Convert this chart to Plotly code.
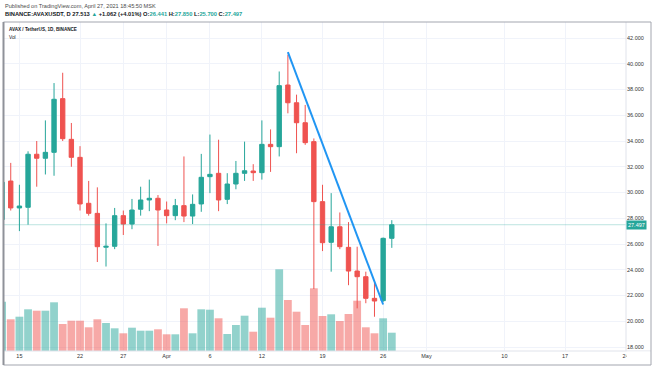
import plotly.graph_objects as go
import pandas as pd

# ---------------- data ----------------
dates = pd.date_range("2021-03-13", "2021-04-27", freq="D")

opens = [27.90, 30.89, 28.80, 28.85, 32.97, 32.66, 33.12, 37.29, 34.13, 32.73,
         29.16, 28.38, 25.75, 25.82, 28.20, 27.55, 28.70, 29.42, 29.55, 28.64,
         28.20, 28.98, 28.17, 29.11, 31.23, 31.49, 29.47, 30.66, 31.49, 31.67,
         31.54, 33.74, 33.56, 38.35, 36.97, 35.42, 33.95, 29.29, 26.13, 27.34,
         25.74, 23.90, 23.46, 21.78, 21.60, 26.441]
highs = [31.10, 32.30, 30.60, 33.20, 34.00, 35.60, 38.50, 39.30, 35.40, 33.60,
         30.90, 30.40, 27.60, 28.80, 28.60, 29.50, 30.45, 31.00, 29.80, 29.30,
         29.50, 32.80, 29.85, 33.00, 34.50, 34.10, 31.50, 32.45, 33.95, 32.20,
         35.60, 34.90, 39.40, 40.70, 37.60, 36.80, 34.20, 30.60, 29.95, 28.45,
         27.70, 25.79, 23.85, 23.20, 26.50, 27.850]
lows = [27.40, 28.60, 27.00, 27.50, 30.45, 31.40, 31.30, 34.00, 32.00, 28.60,
        28.20, 24.60, 24.25, 25.60, 26.70, 27.15, 28.20, 28.55, 25.85, 27.60,
        27.85, 27.70, 27.55, 28.50, 29.95, 28.55, 29.10, 30.25, 30.90, 30.90,
        31.00, 31.60, 32.80, 36.15, 33.05, 33.70, 22.50, 25.45, 23.85, 25.60,
        22.80, 21.00, 21.40, 20.35, 21.50, 25.700]
closes = [30.80, 28.80, 28.95, 32.97, 32.66, 33.12, 37.24, 34.18, 32.73, 29.11,
          28.38, 25.79, 25.82, 28.20, 27.55, 28.64, 29.42, 29.55, 28.64, 28.20,
          28.98, 28.17, 29.08, 31.18, 31.41, 29.42, 30.66, 31.49, 31.69, 31.54,
          33.74, 33.56, 38.30, 36.97, 35.42, 33.87, 29.29, 26.10, 27.34, 25.79,
          23.90, 23.46, 21.78, 21.57, 26.44, 27.497]
# volume, millions of AVAX (relative heights)
volumes = [4.93, 3.17, 3.43, 4.17, 4.03, 4.03, 4.87, 2.70, 3.03, 3.03,
           2.37, 3.17, 2.80, 2.27, 1.77, 2.33, 2.03, 2.03, 2.17, 1.67,
           1.67, 4.27, 1.77, 4.17, 4.13, 3.27, 1.70, 2.60, 3.53, 1.93,
           4.33, 3.33, 8.17, 5.10, 3.93, 2.60, 6.27, 3.50, 3.67, 3.00,
           3.70, 5.03, 2.37, 1.77, 3.27, 1.83]

last_price = 27.497
price_ticks = [18, 20, 22, 24, 26, 28, 30, 32, 34, 36, 38, 40, 42]
price_tick_labels = [f"{v:.3f}" for v in price_ticks]
date_ticks = ["2021-03-15", "2021-03-22", "2021-03-27", "2021-04-01", "2021-04-06",
              "2021-04-12", "2021-04-19", "2021-04-26", "2021-05-01", "2021-05-10",
              "2021-05-17", "2021-05-24"]
date_tick_labels = ["15", "22", "27", "Apr", "6", "12", "19", "26", "May", "10", "17", "24"]
trend_start = ("2021-04-15", 40.90)
trend_end = ("2021-04-26", 21.30)

# ---------------- style ----------------
UP = "#26a69a"
DOWN = "#ef5350"
UP_VOL = "rgba(38,166,154,0.5)"
DOWN_VOL = "rgba(239,83,80,0.5)"
GRID = "#f0f3fa"
FONT = "Liberation Sans"
TXT = "#131722"

W, H = 654, 366
L, R, T, B = 4, 28, 22, 15
PW, PH = W - L - R, H - T - B


def px_x(px):
    return (px - L) / PW


def px_y(py):
    return (H - B - py) / PH


vol_colors = [UP_VOL if c >= o else DOWN_VOL for o, c in zip(opens, closes)]

fig = go.Figure()
fig.add_trace(go.Candlestick(
    x=dates, open=opens, high=highs, low=lows, close=closes,
    increasing=dict(line=dict(color=UP, width=1), fillcolor=UP),
    decreasing=dict(line=dict(color=DOWN, width=1), fillcolor=DOWN),
    whiskerwidth=0, showlegend=False, hoverinfo="skip", yaxis="y",
))
fig.add_trace(go.Bar(
    x=dates, y=volumes, marker=dict(color=vol_colors, line=dict(width=0)),
    yaxis="y2", showlegend=False, hoverinfo="skip",
))

fig.update_layout(
    width=W, height=H,
    margin=dict(l=L, r=R, t=T, b=B),
    paper_bgcolor="white", plot_bgcolor="white",
    bargap=0.1, boxgap=0.28,
    font=dict(family=FONT, size=5.5, color=TXT),
    xaxis=dict(
        type="date", range=["2021-03-13 05:20", "2021-05-24 01:00"],
        tickvals=date_ticks, ticktext=date_tick_labels,
        tickfont=dict(size=5.5, color="#333"),
        showgrid=True, gridcolor=GRID, gridwidth=1,
        showline=False, zeroline=False, ticks="",
        rangeslider=dict(visible=False), fixedrange=True,
    ),
    yaxis=dict(
        side="right", range=[17.689, 43.243],
        tickvals=price_ticks, ticktext=price_tick_labels,
        tickfont=dict(size=5.5, color="#333"),
        showgrid=True, gridcolor=GRID, gridwidth=1,
        zeroline=False, showline=False, ticks="",
    ),
    yaxis2=dict(
        overlaying="y", range=[0, 32.9], visible=False, showgrid=False,
    ),
)

# last price line and its tag
fig.add_shape(type="line", xref="paper", yref="y", x0=0, x1=1,
              y0=last_price, y1=last_price,
              line=dict(color="rgba(38,166,154,0.3)", width=1))
fig.add_annotation(xref="paper", yref="y", x=1, y=last_price, xanchor="left",
                   yanchor="middle", text=f"{last_price:.3f}", showarrow=False,
                   bgcolor=UP, font=dict(color="white", size=5.5), borderpad=1)

# trend line drawing
fig.add_shape(type="line", xref="x", yref="y",
              x0=trend_start[0], y0=trend_start[1], x1=trend_end[0], y1=trend_end[1],
              line=dict(color="#2196F3", width=2))

# separators and frame
fig.add_shape(type="line", xref="paper", yref="paper", x0=1, x1=1, y0=0, y1=1,
              line=dict(color="#e0e3eb", width=1))
fig.add_shape(type="line", xref="paper", yref="paper", x0=0, x1=px_x(651), y0=0, y1=0,
              line=dict(color="#e0e3eb", width=1))
fig.add_shape(type="rect", xref="paper", yref="paper", x0=px_x(626.5), x1=px_x(650.5),
              y0=px_y(364), y1=px_y(351.5), line=dict(width=0), fillcolor="white",
              layer="above")
fig.add_shape(type="rect", xref="paper", yref="paper", x0=px_x(3.5), x1=px_x(651),
              y0=px_y(365), y1=px_y(22), line=dict(color="#a3a6af", width=1),
              layer="above")
fig.add_shape(type="line", xref="paper", yref="paper", x0=px_x(3.5), x1=px_x(3.5),
              y0=px_y(365), y1=px_y(22), line=dict(color="#8f9299", width=2),
              layer="above")

# header text
fig.add_annotation(xref="paper", yref="paper", x=px_x(3), y=px_y(6), xanchor="left",
                   yanchor="middle", showarrow=False,
                   text="Published on TradingView.com, April 27, 2021 18:45:50 MSK",
                   font=dict(size=5.6, color="#4a4a4a"))
fig.add_annotation(
    xref="paper", yref="paper", x=px_x(3), y=px_y(14.3), xanchor="left",
    yanchor="middle", showarrow=False,
    text=("<b>BINANCE:AVAXUSDT, D 27.513 <span style='color:#26a69a'>▲</span> "
          "+1.062 (+4.01%) O:<span style='color:#26a69a'>26.441</span> "
          "H:<span style='color:#26a69a'>27.850</span> "
          "L:<span style='color:#26a69a'>25.700</span> "
          "C:<span style='color:#26a69a'>27.497</span></b>"),
    font=dict(size=5.75, color=TXT))
fig.add_annotation(xref="paper", yref="paper", x=px_x(7), y=px_y(29.3), xanchor="left",
                   yanchor="middle", showarrow=False,
                   text="<b>AVAX / TetherUS, 1D, BINANCE</b>",
                   font=dict(size=4.6, color=TXT))
fig.add_annotation(xref="paper", yref="paper", x=px_x(7), y=px_y(37.3), xanchor="left",
                   yanchor="middle", showarrow=False, text="Vol",
                   font=dict(size=4.8, color=TXT))

fig.write_html("out.html", config={"displayModeBar": False},
               post_script="document.body.style.margin='0';")
